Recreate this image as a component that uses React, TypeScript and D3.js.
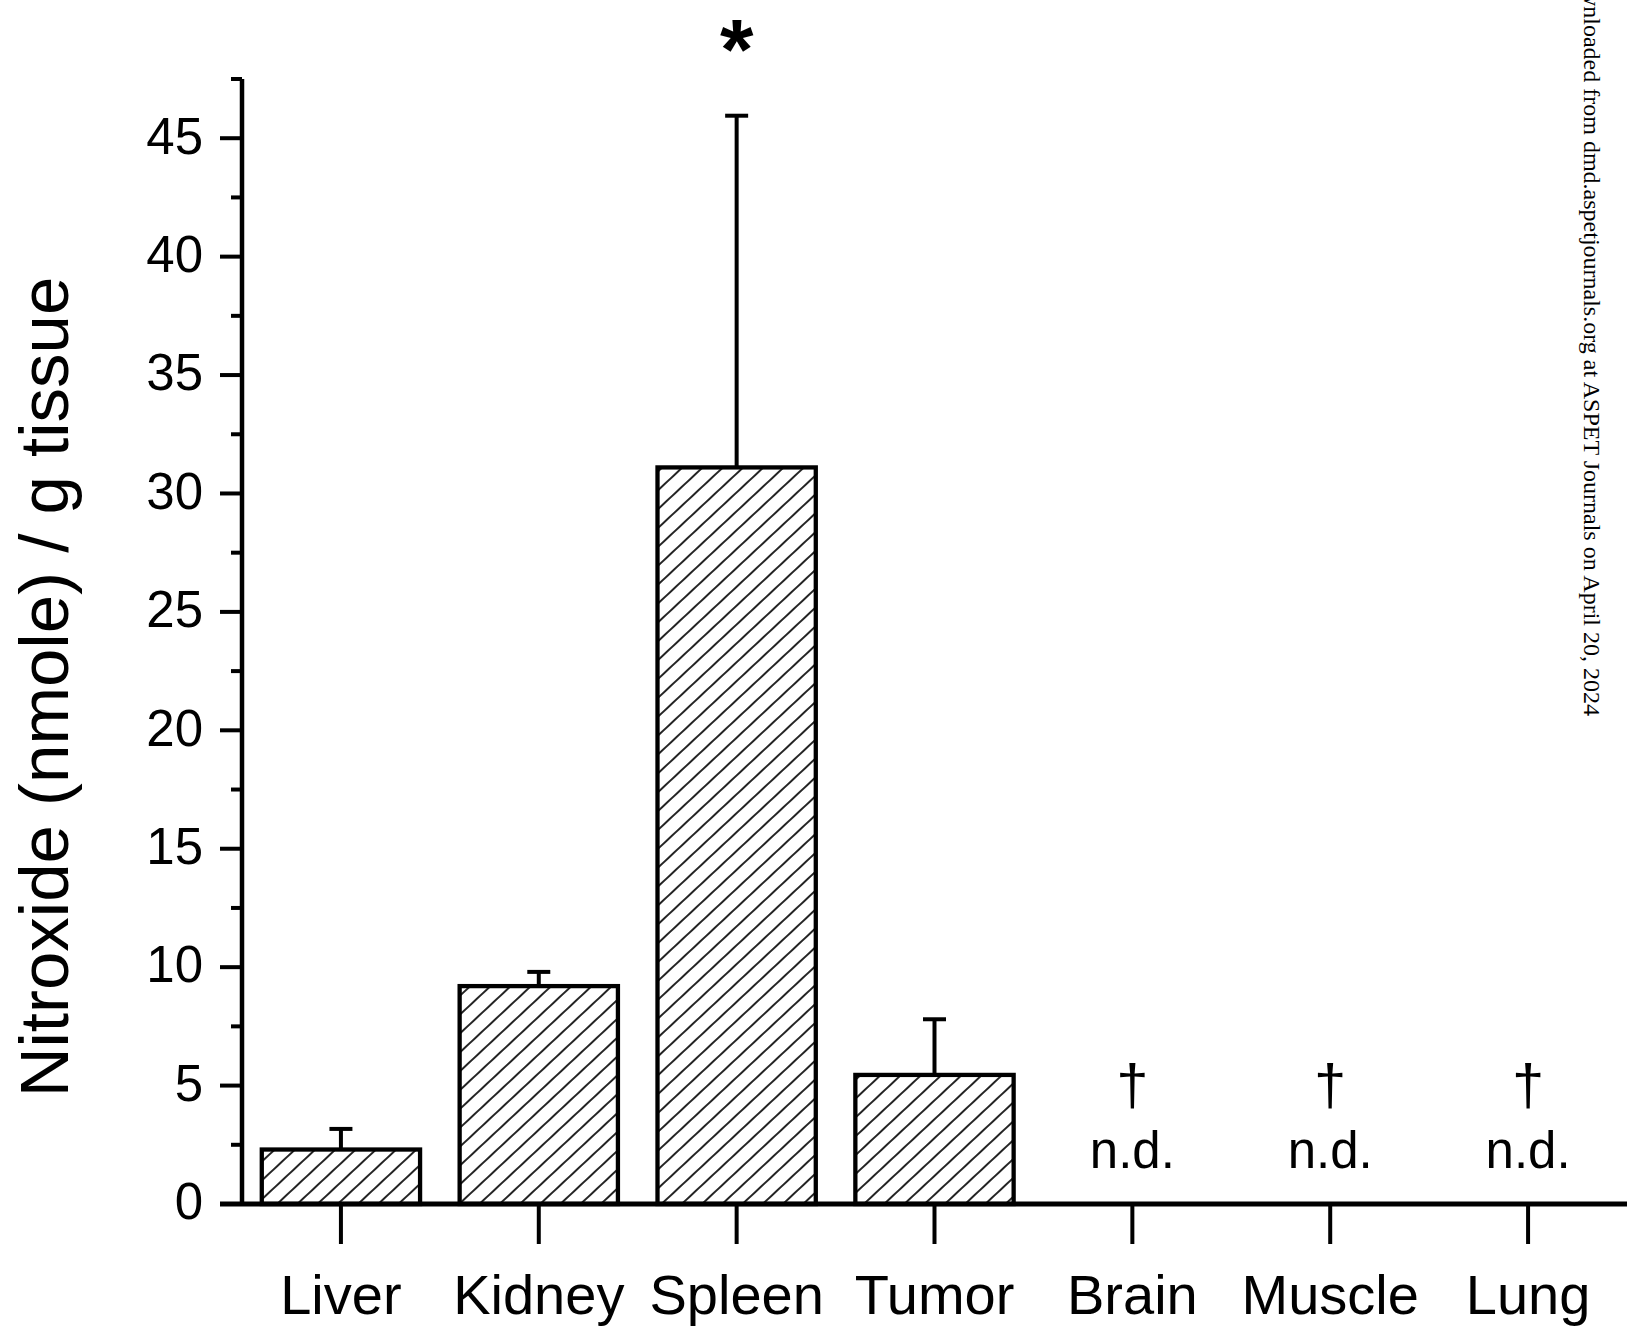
import React from 'react'
import * as d3 from 'd3'

const W = 1627
const H = 1330

// tissue distribution of the nitroxide
const tissues = ['Liver', 'Kidney', 'Spleen', 'Tumor', 'Brain', 'Muscle', 'Lung']
const means = [2.3, 9.2, 31.1, 5.45, null, null, null]
const sds = [0.87, 0.6, 14.85, 2.35, null, null, null]
const notDetected = ['Brain', 'Muscle', 'Lung']
const significant = ['Spleen']
const majorTicks = [0, 5, 10, 15, 20, 25, 30, 35, 40, 45]
const minorTicks = [2.5, 7.5, 12.5, 17.5, 22.5, 27.5, 32.5, 37.5, 42.5, 47.5]

const font = '"Liberation Sans", Arial, sans-serif'

const App = () => {
  var x = d3.scaleBand()
    .domain(tissues)
    .range([242, W])
    .paddingInner(0.2)
    .paddingOuter(0.1)

  var y = d3.scaleLinear()
    .domain([0, 47.5])
    .range([1204, 79])

  var bw = x.bandwidth()
  var cx = (t) => x(t) + bw / 2

  const bars = tissues.map((t, i) => {
    if (means[i] == null) return null
    return <rect key={t} x={x(t)} y={y(means[i])} width={bw} height={y(0) - y(means[i])}
      fill="url(#hatch)" stroke="#000" strokeWidth={4.3}/>
  })

  const errors = tissues.map((t, i) => {
    if (means[i] == null) return null
    var top = y(means[i] + sds[i])
    return (
      <g key={t} stroke="#000" strokeWidth={4}>
        <line x1={cx(t)} x2={cx(t)} y1={y(means[i])} y2={top}/>
        <line x1={cx(t) - 11.5} x2={cx(t) + 11.5} y1={top} y2={top}/>
      </g>
    )
  })

  return (
    <svg width={W} height={H} style={{position: 'absolute', left: 0, top: 0, display: 'block', background: '#fff'}}>
      <defs>
        <pattern id="hatch" patternUnits="userSpaceOnUse" width={20} height={13.8} patternTransform="rotate(-43)">
          <line x1={0} x2={20} y1={6.9} y2={6.9} stroke="#000" strokeWidth={1.7}/>
        </pattern>
      </defs>
      <rect width={W} height={H} fill="#fff"/>

      <g>{ bars }</g>
      <g>{ errors }</g>

      {/* y axis */}
      <line x1={242} x2={242} y1={y(47.5)} y2={y(0)} stroke="#000" strokeWidth={4.5}/>
      {majorTicks.map(v =>
        <g key={'M' + v}>
          <line x1={220} x2={242} y1={y(v)} y2={y(v)} stroke="#000" strokeWidth={4}/>
          <text x={203} y={y(v)} dy="0.3em" textAnchor="end" fontFamily={font} fontSize={51}>{v}</text>
        </g>
      )}
      {minorTicks.map(v =>
        <line key={'m' + v} x1={231} x2={242} y1={y(v)} y2={y(v)} stroke="#000" strokeWidth={4}/>
      )}

      {/* x axis */}
      <line x1={220} x2={W} y1={y(0)} y2={y(0)} stroke="#000" strokeWidth={5}/>
      {tissues.map(t =>
        <g key={'x' + t}>
          <line x1={cx(t)} x2={cx(t)} y1={y(0)} y2={1244} stroke="#000" strokeWidth={4}/>
          <text x={cx(t)} y={1314} textAnchor="middle" fontFamily={font} fontSize={56}>{t}</text>
        </g>
      )}

      {notDetected.map(t =>
        <g key={'nd' + t} fontFamily={font} textAnchor="middle">
          <text x={cx(t)} y={1105} fontSize={58}>†</text>
          <text x={cx(t)} y={1168} fontSize={51}>n.d.</text>
        </g>
      )}
      {significant.map(t =>
        <text key={'s' + t} x={cx(t)} y={79} textAnchor="middle" fontFamily={font} fontSize={86} fontWeight="bold">*</text>
      )}

      <text transform="translate(68,687) rotate(-90)" textAnchor="middle" fontFamily={font} fontSize={69}>
        Nitroxide (nmole) / g tissue
      </text>

      <text transform="translate(1584,716) rotate(90)" textAnchor="end" fontFamily='"Liberation Serif", "Times New Roman", serif' fontSize={24}>
        Downloaded from dmd.aspetjournals.org at ASPET Journals on April 20, 2024
      </text>
    </svg>
  )
}

export default App
